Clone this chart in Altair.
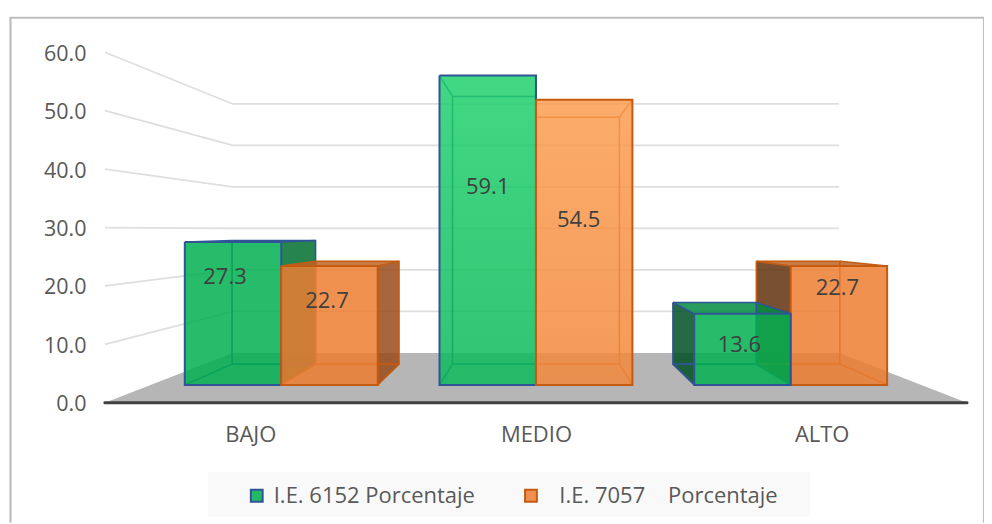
import altair as alt
import pandas as pd

CATEGORIES = ["BAJO", "MEDIO", "ALTO"]
SERIES = ["I.E. 6152 Porcentaje", "\u200b\u00a0\u00a0I.E.\u00a07057\u00a0\u00a0\u00a0\u00a0Porcentaje"]
VAL_6152 = [27.3, 59.1, 13.6]
VAL_7057 = [22.7, 54.5, 22.7]
TICKS = [0, 10, 20, 30, 40, 50, 60]

# label nudges from the top-centre of each bar's front face (hand-placed in the original)
NUDGE_6152 = [(-8, 35), (0, 112), (-3, 31)]
NUDGE_7057 = [(-2.5, 35), (-5.5, 120), (-1.5, 22)]

# --- view / perspective parameters
W, H = 977, 515
CX, CY, EYE, UNIT = 536.5, 230.6, 172.4, 5.85
S_FRONT, S_BAR_F, S_BAR_B, S_WALL = 1.0, 0.8956, 0.775, 0.71
HALF = 431.5
HALF_BACK = 427.5
BAR_W = 107.8
CAT_W_BARS = 284.7
CAT_W_LABELS = 286
FONT = "Open Sans"
TXT = "#595959"

GREEN = dict(base="#00B050", light="#20D16E", left="#005024", right="#007030", top="#008C40", edge="#2F5597")
ORANGE = dict(base="#ED7D31", light="#FFA356", left="#63310F", right="#994B1A", top="#BE6427", edge="#C55A11")


def Y(py):
    return (403 - py) / UNIT


def proj(xw, value, s):
    return CX + xw * s, Y(CY + EYE * s - value * UNIT * s)


xs = alt.Scale(domain=[8, 8 + W], range=[0, W], nice=False, zero=False)
ys = alt.Scale(domain=[Y(8 + H), Y(8)], range=[H, 0], nice=False, zero=False)
centers = [CX + (i - 1) * CAT_W_LABELS for i in range(3)]
x_axis = alt.Axis(
    values=centers, labelExpr="['BAJO','MEDIO','ALTO'][round(datum.index*2)]",
    domain=False, ticks=False, grid=False, labelFont=FONT, labelFontSize=22, labelColor=TXT,
    labelPadding=0, offset=-(8 + H - 425), labelBaseline="top", labelOverlap=False, orient="bottom",
)
y_axis = alt.Axis(
    values=TICKS, format=".1f", domain=False, ticks=False, grid=False, labelFont=FONT, labelFontSize=21.5,
    labelColor=TXT, labelPadding=0, offset=-78, orient="left", labelOverlap=False, labelOffset=2,
)


def X_(f="x"):
    return alt.X(f"{f}:Q", scale=xs, axis=x_axis, title=None)


def Y_(f="y"):
    return alt.Y(f"{f}:Q", scale=ys, axis=y_axis, title=None)


layers = []


def data(rows):
    return alt.Data(values=rows)


def vquad(x0, y0a, y0b, x1, y1a, y1b, fill, opacity):
    rows = [dict(x=x0, y=y0a, y2=y0b), dict(x=x1, y=y1a, y2=y1b)]
    layers.append(alt.Chart(data(rows)).mark_area(fill=fill, opacity=opacity, interpolate="linear").encode(
        x=X_(), y=Y_(), y2="y2:Q"))


def hquad(y0, x0a, x0b, y1, x1a, x1b, fill, opacity):
    rows = [dict(y=y0, x=x0a, x2=x0b), dict(y=y1, x=x1a, x2=x1b)]
    layers.append(alt.Chart(data(rows)).mark_area(fill=fill, opacity=opacity, orient="horizontal").encode(
        y=Y_(), x=X_(), x2="x2:Q"))


def polyline(points, color, width, cap="butt"):
    rows = [dict(x=p[0], y=p[1], o=i, s=p[2] if len(p) > 2 else 0) for i, p in enumerate(points)]
    layers.append(alt.Chart(data(rows)).mark_line(color=color, strokeWidth=width, strokeCap=cap, strokeJoin="miter").encode(
        x=X_(), y=Y_(), order="o:Q", detail="s:N"))


legend = alt.Legend(
    orient="none", legendX=238, legendY=477, direction="horizontal", columns=2, title=None,
    symbolType="square", symbolSize=140, symbolStrokeWidth=2, labelFont=FONT, labelFontSize=22,
    labelColor=TXT, columnPadding=44.5, labelOffset=6, symbolOpacity=1, labelLimit=400,
)

# frame
FX0, FX1, FY0, FY1 = 10.5, 985, 17.5, 8 + H
polyline([(FX0, Y(FY1)), (FX0, Y(FY0)), (FX1, Y(FY0)), (FX1, Y(FY1))], "#BFBFBF", 2.2)

# legend band
layers.append(alt.Chart(data([dict(x=208, x2=811, y=Y(472), y2=Y(517))])).mark_rect(fill="#F9F9F9").encode(
    x=X_(), x2="x2:Q", y=Y_(), y2="y2:Q"))

# legend carrier (hidden under the floor)
layers.append(alt.Chart(data([dict(x=CX, y=Y(370), s=SERIES[0]), dict(x=CX, y=Y(370), s=SERIES[1])])).mark_square(size=1).encode(
    x=X_(), y=Y_(),
    fill=alt.Fill("s:N", scale=alt.Scale(domain=SERIES, range=["#22BA68", "#EF9050"]), legend=legend, sort=None),
    stroke=alt.Stroke("s:N", scale=alt.Scale(domain=SERIES, range=[GREEN["edge"], ORANGE["edge"]]), legend=legend, sort=None),
))

# floor
fl_f = [proj(-HALF, 0, S_FRONT), proj(HALF, 0, S_FRONT)]
fl_b = [proj(-HALF_BACK, 0, S_WALL), proj(HALF_BACK, 0, S_WALL)]
hquad(fl_f[0][1], fl_f[0][0], fl_f[1][0], fl_b[0][1], fl_b[0][0], fl_b[1][0], "#B6B6B6", 1)

# gridlines on the side walls and back wall
for t in TICKS[1:]:
    polyline([proj(-HALF, t, S_FRONT), proj(-HALF_BACK, t, S_WALL), proj(HALF_BACK, t, S_WALL)], "#DEDEDE", 1.8)

# axis line
polyline([proj(-HALF, 0, S_FRONT), proj(HALF, 0, S_FRONT)], "#404040", 3, "round")


def mix(a, b, t):
    ca = [int(a[i:i + 2], 16) for i in (1, 3, 5)]
    cb = [int(b[i:i + 2], 16) for i in (1, 3, 5)]
    return "#%02x%02x%02x" % tuple(round(p + (q - p) * t) for p, q in zip(ca, cb))


def bar(cat_i, xl, value, st):
    xr = xl + BAR_W
    x_fl, y_ft = proj(xl, value, S_BAR_F)
    x_fr, y_fb = proj(xr, 0, S_BAR_F)
    x_bl, y_bt = proj(xl, value, S_BAR_B)
    x_br, y_bb = proj(xr, 0, S_BAR_B)
    # exposed side faces
    if x_br > x_fr:
        vquad(x_fr, y_ft, y_fb, x_br, y_bt, y_bb, st["right"], 0.85)
    if x_bl < x_fl:
        vquad(x_bl, y_bt, y_bb, x_fl, y_ft, y_fb, st["left"], 0.85)
    if y_bt > y_ft:
        hquad(y_ft, x_fl, x_fr, y_bt, x_bl, x_br, st["top"], 0.85)
    # box edges (seen dimly through the front face)
    e = st["edge"]
    polyline([(x_bl, y_bt), (x_br, y_bt), (x_br, y_bb), (x_bl, y_bb), (x_bl, y_bt)], e, 1.6)
    polyline([(x_fl, y_ft), (x_bl, y_bt)], e, 1.6)
    polyline([(x_fr, y_ft), (x_br, y_bt)], e, 1.6)
    polyline([(x_fl, y_fb), (x_bl, y_bb)], e, 1.6)
    polyline([(x_fr, y_fb), (x_br, y_bb)], e, 1.6)
    # front face: taller bars are lighter
    t_top = min(max((value - 30) / 29, 0), 1)
    t_bot = 0.3 if value > 30 else 0
    grad = alt.Gradient(gradient="linear", stops=[
        alt.GradientStop(color=mix(st["base"], st["light"], t_top), offset=0),
        alt.GradientStop(color=mix(st["base"], st["light"], t_bot), offset=1),
    ], x1=0, x2=0, y1=0, y2=1)
    layers.append(alt.Chart(data([dict(x=x_fl, x2=x_fr, y=y_ft, y2=y_fb)])).mark_rect(fill=grad, opacity=0.85).encode(
        x=X_(), x2="x2:Q", y=Y_(), y2="y2:Q"))
    polyline([(x_fl, y_ft), (x_fr, y_ft), (x_fr, y_fb), (x_fl, y_fb), (x_fl, y_ft)], e, 2)


world_centers = [(i - 1) * CAT_W_BARS for i in range(3)]
for i, c in enumerate(world_centers):
    if i == 2:      # right of centre: nearer-the-middle bar sits on top
        bar(i, c, VAL_7057[i], ORANGE)
        bar(i, c - BAR_W, VAL_6152[i], GREEN)
    else:
        bar(i, c - BAR_W, VAL_6152[i], GREEN)
        bar(i, c, VAL_7057[i], ORANGE)


def label(i, xl, value, nudge):
    x_c, y_t = proj(xl + BAR_W / 2, value, S_BAR_F)
    layers.append(alt.Chart(data([dict(x=x_c, y=y_t, t=f"{value:.1f}")])).mark_text(
        font=FONT, fontSize=22, color="#404040", align="center", baseline="middle", dx=nudge[0], dy=nudge[1]
    ).encode(x=X_(), y=Y_(), text="t:N"))


for i, c in enumerate(world_centers):
    label(i, c - BAR_W, VAL_6152[i], NUDGE_6152[i])
    label(i, c, VAL_7057[i], NUDGE_7057[i])

chart = alt.layer(*layers).properties(
    width=W, height=H, padding=0, background="#FFFFFF",
    autosize=alt.AutoSizeParams(type="none", contains="content"),
).configure_view(stroke=None)
chart.save("out.html", embed_options={"renderer": "svg", "actions": False})
